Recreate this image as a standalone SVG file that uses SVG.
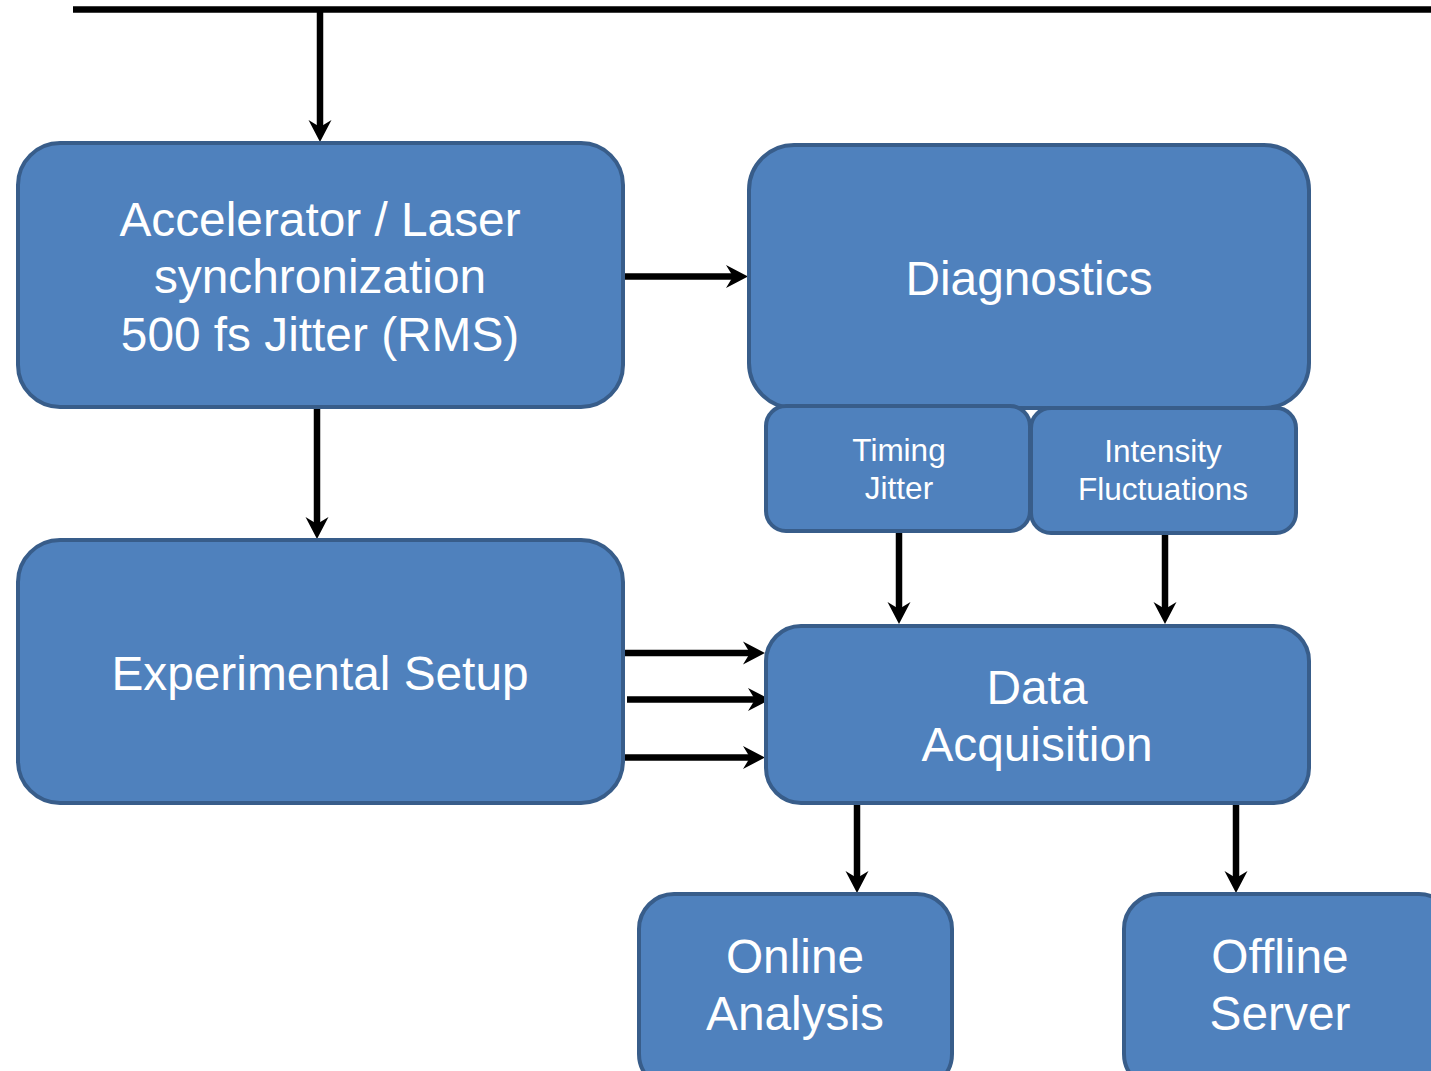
<svg xmlns="http://www.w3.org/2000/svg" width="1431" height="1071" viewBox="0 0 1431 1071">
  <defs>
    <style>
      .box { fill: #4f81bd; stroke: #385d8a; stroke-width: 4; }
      .lbl { fill: #ffffff; font-family: "Liberation Sans", Arial, sans-serif; font-size: 47.8px; text-anchor: middle; }
      .sm { font-size: 31.5px; }
      .wire { stroke: #000000; stroke-width: 6.5; fill: none; }
      .arr { stroke: #000000; stroke-width: 6.5; fill: none; marker-end: url(#head); }
    </style>
    <marker id="head" markerUnits="userSpaceOnUse" markerWidth="24" markerHeight="24" viewBox="0 0 24 24" refX="10" refY="12" orient="auto">
      <path d="M0,0.5 L22,12 L0,23.5 L7,12 Z" fill="#000000"/>
    </marker>
  </defs>

  <rect width="1431" height="1071" fill="#ffffff"/>

  <!-- connectors -->
  <g id="connectors">
    <line class="wire" x1="73" y1="9.5" x2="1431" y2="9.5" stroke-width="7"/>
    <line class="arr" x1="320" y1="9.5" x2="320" y2="130"/>
    <line class="arr" x1="623" y1="276.5" x2="736" y2="276.5"/>
    <line class="arr" x1="317" y1="407" x2="317" y2="527"/>
    <line class="arr" x1="899" y1="531" x2="899" y2="612"/>
    <line class="arr" x1="1165" y1="533" x2="1165" y2="612"/>
    <line class="arr" x1="622" y1="653" x2="753" y2="653"/>
    <line class="arr" x1="627" y1="699.5" x2="758" y2="699.5"/>
    <line class="arr" x1="621" y1="757.5" x2="753" y2="757.5"/>
    <line class="arr" x1="857" y1="803" x2="857" y2="881"/>
    <line class="arr" x1="1236" y1="803" x2="1236" y2="881"/>
  </g>

  <!-- nodes -->
  <g id="accelerator">
    <rect class="box" x="18" y="143" width="605" height="264" rx="42"/>
    <text class="lbl" x="320" y="236">Accelerator / Laser</text>
    <text class="lbl" x="320" y="293">synchronization</text>
    <text class="lbl" x="320" y="351">500 fs Jitter (RMS)</text>
  </g>

  <g id="diagnostics">
    <rect class="box" x="749" y="145" width="560" height="263" rx="45"/>
    <text class="lbl" x="1029" y="295">Diagnostics</text>
  </g>

  <g id="timing-jitter">
    <rect class="box" x="766" y="406" width="264" height="125" rx="20"/>
    <text class="lbl sm" x="899" y="461">Timing</text>
    <text class="lbl sm" x="899" y="499">Jitter</text>
  </g>

  <g id="intensity-fluctuations">
    <rect class="box" x="1031" y="408" width="265" height="125" rx="20"/>
    <text class="lbl sm" x="1163" y="462">Intensity</text>
    <text class="lbl sm" x="1163" y="500">Fluctuations</text>
  </g>

  <g id="experimental-setup">
    <rect class="box" x="18" y="540" width="605" height="263" rx="42"/>
    <text class="lbl" x="320" y="690">Experimental Setup</text>
  </g>

  <g id="data-acquisition">
    <rect class="box" x="766" y="626" width="543" height="177" rx="35"/>
    <text class="lbl" x="1037" y="704">Data</text>
    <text class="lbl" x="1037" y="761">Acquisition</text>
  </g>

  <g id="online-analysis">
    <rect class="box" x="639" y="894" width="313" height="195" rx="35"/>
    <text class="lbl" x="795" y="973">Online</text>
    <text class="lbl" x="795" y="1030">Analysis</text>
  </g>

  <g id="offline-server">
    <rect class="box" x="1124" y="894" width="330" height="195" rx="35"/>
    <text class="lbl" x="1280" y="973">Offline</text>
    <text class="lbl" x="1280" y="1030">Server</text>
  </g>
</svg>
